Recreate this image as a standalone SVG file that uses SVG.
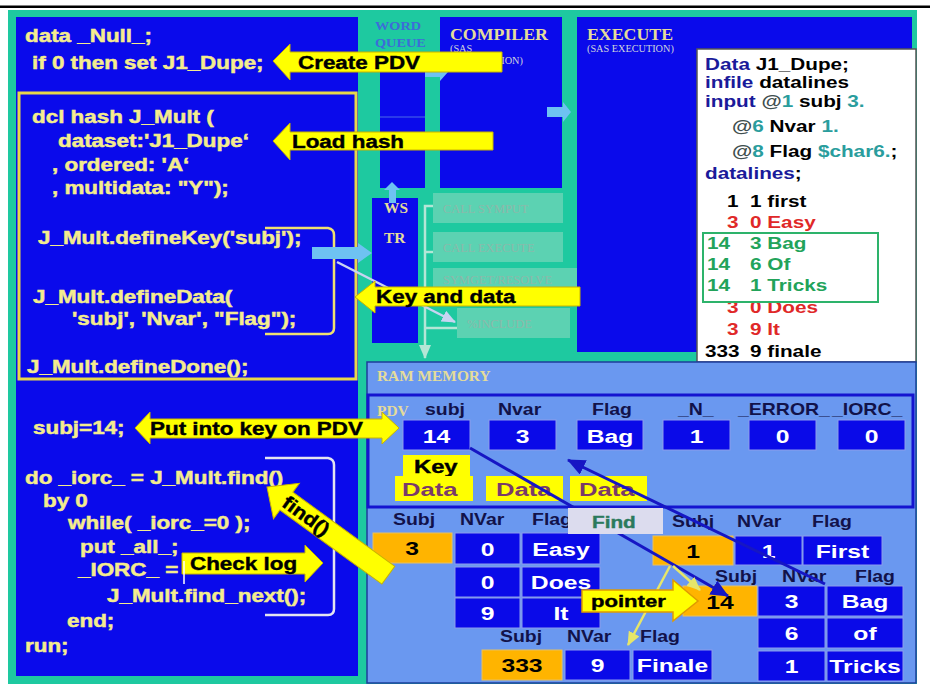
<svg xmlns="http://www.w3.org/2000/svg" width="930" height="687" viewBox="0 0 930 687">
<defs>
<style>
.code{font-family:"Liberation Sans",Arial,sans-serif;font-weight:bold;font-size:19px;fill:#F4EC8E;stroke:#F4EC8E;stroke-width:0.5}
.call{font-family:"Liberation Sans",Arial,sans-serif;font-weight:bold;font-size:19px;fill:#000;stroke:#000;stroke-width:0.4}
.ser{font-family:"Liberation Serif","Times New Roman",serif;font-weight:bold;fill:#E4DC9A}
.small{font-family:"Liberation Serif","Times New Roman",serif;font-size:9.5px;fill:#D0D4DC}
.cbox{fill:#5CD2B2}
.ctxt{font-family:"Liberation Serif","Times New Roman",serif;font-size:11.5px;fill:#8DB8AA}
.wb{font-family:"Liberation Sans",Arial,sans-serif;font-weight:bold;font-size:17px;fill:#000}
.nv{fill:#1A1A9A}.tl{fill:#2A9D9D}.gr{fill:#3F4F4F}.rd{fill:#E02828}.gn{fill:#22A35A}
.hdr{font-family:"Liberation Sans",Arial,sans-serif;font-weight:bold;font-size:16.5px;fill:#12124A}
.val{font-family:"Liberation Sans",Arial,sans-serif;font-weight:bold;font-size:19px;fill:#fff;text-anchor:middle}
.valk{font-family:"Liberation Sans",Arial,sans-serif;font-weight:bold;font-size:19px;fill:#000;text-anchor:middle}
.dat{font-family:"Liberation Sans",Arial,sans-serif;font-weight:bold;font-size:19px;fill:#7A3A6A}
.bcell{fill:#0A0AE8;stroke:#8C9CEC;stroke-width:1}
.ocell{fill:#FFB400;stroke:#E8C060;stroke-width:1}
.ybox{fill:#FFFF00}
.yarrow{fill:#FFFF00;stroke:#C8B400;stroke-width:1}
.lb{fill:#6EC2F2}
.blue{fill:#0A0AEB}
</style>
<marker id="ab" markerUnits="userSpaceOnUse" markerWidth="18" markerHeight="16" refX="17" refY="8" orient="auto"><path d="M0,0 L18,8 L0,16 z" fill="#1616C4"/></marker>
<marker id="al" markerUnits="userSpaceOnUse" markerWidth="14" markerHeight="12" refX="13" refY="6" orient="auto"><path d="M0,0 L14,6 L0,12 z" fill="#C8D4F2"/></marker>
<marker id="at" markerUnits="userSpaceOnUse" markerWidth="14" markerHeight="12" refX="13" refY="6" orient="auto"><path d="M0,0 L14,6 L0,12 z" fill="#B4E6D6"/></marker>
<marker id="ay" markerUnits="userSpaceOnUse" markerWidth="14" markerHeight="12" refX="13" refY="6" orient="auto"><path d="M0,0 L14,6 L0,12 z" fill="#E6E66A"/></marker>
</defs>

<rect width="930" height="687" fill="#fff"/>
<rect x="0" y="5.5" width="930" height="2.5" fill="#000"/>
<rect x="8" y="10" width="909" height="674" fill="#1EC9A0"/>

<g id="code-panel">
<rect class="blue" x="16" y="17" width="342" height="659"/>
<rect x="19" y="93" width="337" height="286" fill="none" stroke="#E8D84A" stroke-width="3"/>
<text class="code" transform="translate(25 42) scale(1.18 1)">data _Null_;</text>
<text class="code" transform="translate(32 69) scale(1.18 1)">if 0 then set J1_Dupe;</text>
<text class="code" transform="translate(32 123) scale(1.18 1)">dcl hash J_Mult (</text>
<text class="code" transform="translate(58 147) scale(1.18 1)">dataset:'J1_Dupe‘</text>
<text class="code" transform="translate(52 171) scale(1.18 1)">, ordered: 'A‘</text>
<text class="code" transform="translate(52 194) scale(1.18 1)">, multidata: "Y");</text>
<text class="code" transform="translate(38 244) scale(1.18 1)">J_Mult.defineKey('subj');</text>
<text class="code" transform="translate(33 303) scale(1.18 1)">J_Mult.defineData(</text>
<text class="code" transform="translate(72 325) scale(1.18 1)">'subj', 'Nvar', "Flag");</text>
<text class="code" transform="translate(27 373) scale(1.18 1)">J_Mult.defineDone();</text>
<text class="code" transform="translate(33 434) scale(1.18 1)">subj=14;</text>
<text class="code" transform="translate(25 484) scale(1.18 1)">do _iorc_ = J_Mult.find()</text>
<text class="code" transform="translate(43 507) scale(1.18 1)">by 0</text>
<text class="code" transform="translate(68 529) scale(1.18 1)">while( _iorc_=0 );</text>
<text class="code" transform="translate(80 553) scale(1.18 1)">put _all_;</text>
<text class="code" transform="translate(78 576) scale(1.18 1)">_IORC_ =</text>
<text class="code" transform="translate(107 602) scale(1.18 1)">J_Mult.find_next();</text>
<text class="code" transform="translate(67 627) scale(1.18 1)">end;</text>
<text class="code" transform="translate(25 652) scale(1.18 1)">run;</text>
<path d="M265,228 H328 Q334,229 334,235 V328 Q334,334 328,334 H265" fill="none" stroke="#F0E070" stroke-width="2.5"/>
<path d="M265,458 H328 Q334,459 334,465 V609 Q334,615 328,615 H265" fill="none" stroke="#E4E4F0" stroke-width="2.5"/>
</g>

<g id="word-queue">
<text class="ser" style="fill:#3D6CD8;font-size:13px" transform="translate(375 30) scale(1.1 1)">WORD</text>
<text class="ser" style="fill:#3D6CD8;font-size:13px" transform="translate(375 47) scale(1.1 1)">QUEUE</text>
<rect class="blue" x="380" y="52" width="45" height="136"/>
<line x1="380" y1="117" x2="425" y2="117" stroke="#4A6AE8" stroke-width="1"/>
</g>

<g id="ws-tr">
<rect class="blue" x="372" y="198" width="46" height="145"/>
<text class="ser" style="font-size:14px" transform="translate(384 213) scale(1.1 1)">WS</text>
<text class="ser" style="font-size:14px" transform="translate(384 243) scale(1.1 1)">TR</text>
</g>

<g id="compiler">
<rect class="blue" x="440" y="17" width="122" height="171"/>
<text class="ser" style="font-size:16.5px" transform="translate(450 40) scale(1.08 1)">COMPILER</text>
<text class="small" transform="translate(450 52) scale(1.08 1)">(SAS</text>
<text class="small" transform="translate(450 64) scale(1.08 1)">COMPILATION)</text>
</g>

<g id="call-routines">
<rect class="cbox" x="433" y="193" width="130" height="30"/>
<text class="ctxt" transform="translate(443 213) scale(1.08 1)">CALL SYMPUT</text>
<rect class="cbox" x="433" y="232" width="130" height="30"/>
<text class="ctxt" transform="translate(443 252) scale(1.08 1)">CALL EXECUTE</text>
<rect class="cbox" x="433" y="268" width="145" height="30"/>
<text class="ctxt" transform="translate(443 284) scale(1.08 1)">SYMGET/RESOLVE</text>
<rect class="cbox" x="457" y="308" width="113" height="30"/>
<text class="ctxt" transform="translate(467 328) scale(1.08 1)">%INCLUDE</text>
</g>

<g id="execute">
<rect class="blue" x="577" y="17" width="335" height="335"/>
<text class="ser" style="font-size:16.5px" transform="translate(587 40) scale(1.08 1)">EXECUTE</text>
<text class="small" transform="translate(587 52) scale(1.08 1)">(SAS EXECUTION)</text>
</g>

<g id="datalines-box">
<rect x="697" y="49" width="219" height="313" fill="#fff" stroke="#555" stroke-width="1.5"/>
<text class="wb" transform="translate(705 70) scale(1.22 1)"><tspan class="nv">Data</tspan> J1_Dupe;</text>
<text class="wb" transform="translate(705 88) scale(1.22 1)"><tspan class="nv">infile</tspan> datalines</text>
<text class="wb" transform="translate(705 107) scale(1.22 1)"><tspan class="nv">input</tspan> <tspan class="gr">@</tspan><tspan class="tl">1</tspan> subj <tspan class="tl">3.</tspan></text>
<text class="wb" transform="translate(732 132) scale(1.22 1)"><tspan class="gr">@</tspan><tspan class="tl">6</tspan> Nvar <tspan class="tl">1.</tspan></text>
<text class="wb" transform="translate(732 157) scale(1.22 1)"><tspan class="gr">@</tspan><tspan class="tl">8</tspan> Flag <tspan class="tl">$char6.</tspan>;</text>
<text class="wb" transform="translate(705 179) scale(1.22 1)"><tspan class="nv">datalines</tspan>;</text>
<text class="wb" transform="translate(727 207) scale(1.22 1)">1</text>
<text class="wb" transform="translate(750 207) scale(1.22 1)">1 first</text>
<text class="wb rd" transform="translate(727 228) scale(1.22 1)">3</text>
<text class="wb rd" transform="translate(750 228) scale(1.22 1)">0 Easy</text>
<text class="wb gn" transform="translate(707 249) scale(1.22 1)">14</text>
<text class="wb gn" transform="translate(750 249) scale(1.22 1)">3 Bag</text>
<text class="wb gn" transform="translate(707 270) scale(1.22 1)">14</text>
<text class="wb gn" transform="translate(750 270) scale(1.22 1)">6 Of</text>
<text class="wb gn" transform="translate(707 291) scale(1.22 1)">14</text>
<text class="wb gn" transform="translate(750 291) scale(1.22 1)">1 Tricks</text>
<text class="wb rd" transform="translate(727 313) scale(1.22 1)">3</text>
<text class="wb rd" transform="translate(750 313) scale(1.22 1)">0 Does</text>
<text class="wb rd" transform="translate(727 335) scale(1.22 1)">3</text>
<text class="wb rd" transform="translate(750 335) scale(1.22 1)">9 It</text>
<text class="wb" transform="translate(705 357) scale(1.22 1)">333</text>
<text class="wb" transform="translate(750 357) scale(1.22 1)">9 finale</text>
<rect x="703" y="233" width="175" height="69" fill="none" stroke="#2DB36B" stroke-width="2"/>
</g>

<g id="ram-memory">
<rect x="367" y="362" width="549" height="321" fill="#6A98F0" stroke="#1E3C9A" stroke-width="1.5"/>
<text class="ser" style="font-size:14px" transform="translate(377 381) scale(1.1 1)">RAM MEMORY</text>
</g>

<g id="pdv">
<rect x="368" y="395" width="545" height="112" fill="none" stroke="#1414D0" stroke-width="3"/>
<text class="ser" style="font-size:14px" transform="translate(377 416) scale(1.1 1)">PDV</text>
<text class="hdr" transform="translate(425 415) scale(1.18 1)">subj</text>
<text class="hdr" transform="translate(498 415) scale(1.18 1)">Nvar</text>
<text class="hdr" transform="translate(592 415) scale(1.18 1)">Flag</text>
<text class="hdr" transform="translate(678 415) scale(1.18 1)">_N_</text>
<text class="hdr" transform="translate(738 415) scale(1.18 1)">_ERROR_</text>
<text class="hdr" transform="translate(832 415) scale(1.18 1)">_IORC_</text>
<rect class="bcell" x="403" y="420" width="67" height="30"/>
<text class="val" transform="translate(436.5 443) scale(1.3 1)">14</text>
<rect class="bcell" x="489" y="420" width="67" height="30"/>
<text class="val" transform="translate(522.5 443) scale(1.3 1)">3</text>
<rect class="bcell" x="577" y="420" width="66" height="30"/>
<text class="val" transform="translate(610 443) scale(1.3 1)">Bag</text>
<rect class="bcell" x="663" y="420" width="67" height="30"/>
<text class="val" transform="translate(696.5 443) scale(1.3 1)">1</text>
<rect class="bcell" x="749" y="420" width="67" height="30"/>
<text class="val" transform="translate(782.5 443) scale(1.3 1)">0</text>
<rect class="bcell" x="838" y="420" width="67" height="30"/>
<text class="val" transform="translate(871.5 443) scale(1.3 1)">0</text>
<rect class="ybox" x="403" y="455" width="67" height="22"/>
<text class="call" transform="translate(414 473) scale(1.25 1)">Key</text>
<rect class="ybox" x="395" y="476" width="78" height="25"/>
<text class="dat" transform="translate(402 496) scale(1.35 1)">Data</text>
<rect class="ybox" x="486" y="476" width="77" height="25"/>
<text class="dat" transform="translate(496 496) scale(1.35 1)">Data</text>
<rect class="ybox" x="570" y="476" width="77" height="25"/>
<text class="dat" transform="translate(579 496) scale(1.35 1)">Data</text>
</g>

<g id="hash-items">
<text class="hdr" transform="translate(393 525) scale(1.18 1)">Subj</text>
<text class="hdr" transform="translate(460 525) scale(1.18 1)">NVar</text>
<text class="hdr" transform="translate(532 525) scale(1.18 1)">Flag</text>
<rect class="ocell" x="373" y="533" width="79" height="30"/>
<text class="valk" transform="translate(412 555) scale(1.3 1)">3</text>
<rect class="bcell" x="455" y="533" width="65" height="31"/>
<text class="val" transform="translate(487.5 556) scale(1.3 1)">0</text>
<rect class="bcell" x="522" y="533" width="78" height="31"/>
<text class="val" transform="translate(561 556) scale(1.3 1)">Easy</text>
<rect class="bcell" x="455" y="567" width="65" height="30"/>
<text class="val" transform="translate(487.5 589) scale(1.3 1)">0</text>
<rect class="bcell" x="522" y="567" width="78" height="30"/>
<text class="val" transform="translate(561 589) scale(1.3 1)">Does</text>
<rect class="bcell" x="455" y="598" width="65" height="30"/>
<text class="val" transform="translate(487.5 620) scale(1.3 1)">9</text>
<rect class="bcell" x="522" y="598" width="78" height="30"/>
<text class="val" transform="translate(561 620) scale(1.3 1)">It</text>

<text class="hdr" transform="translate(500 642) scale(1.18 1)">Subj</text>
<text class="hdr" transform="translate(567 642) scale(1.18 1)">NVar</text>
<text class="hdr" transform="translate(640 642) scale(1.18 1)">Flag</text>
<rect class="ocell" x="482" y="650" width="80" height="30"/>
<text class="valk" transform="translate(522 672) scale(1.3 1)">333</text>
<rect class="bcell" x="565" y="650" width="65" height="30"/>
<text class="val" transform="translate(597.5 672) scale(1.3 1)">9</text>
<rect class="bcell" x="633" y="650" width="79" height="30"/>
<text class="val" transform="translate(672.5 672) scale(1.3 1)">Finale</text>

<text class="hdr" transform="translate(672 527) scale(1.18 1)">Subj</text>
<text class="hdr" transform="translate(737 527) scale(1.18 1)">NVar</text>
<text class="hdr" transform="translate(812 527) scale(1.18 1)">Flag</text>
<rect class="ocell" x="653" y="536" width="80" height="29"/>
<text class="valk" transform="translate(693 558) scale(1.3 1)">1</text>
<rect class="bcell" x="735" y="536" width="67" height="29"/>
<text class="val" transform="translate(768.5 558) scale(1.3 1)">1</text>
<rect class="bcell" x="803" y="536" width="79" height="29"/>
<text class="val" transform="translate(842.5 558) scale(1.3 1)">First</text>

<text class="hdr" transform="translate(715 582) scale(1.18 1)">Subj</text>
<text class="hdr" transform="translate(782 582) scale(1.18 1)">NVar</text>
<text class="hdr" transform="translate(855 582) scale(1.18 1)">Flag</text>
<rect class="ocell" x="683" y="586" width="74" height="30"/>
<text class="valk" transform="translate(720 609) scale(1.3 1)">14</text>
<rect class="bcell" x="758" y="586" width="67" height="30"/>
<text class="val" transform="translate(791.5 608) scale(1.3 1)">3</text>
<rect class="bcell" x="827" y="586" width="76" height="30"/>
<text class="val" transform="translate(865 608) scale(1.3 1)">Bag</text>
<rect class="bcell" x="758" y="618" width="67" height="30"/>
<text class="val" transform="translate(791.5 640) scale(1.3 1)">6</text>
<rect class="bcell" x="827" y="618" width="76" height="30"/>
<text class="val" transform="translate(865 640) scale(1.3 1)">of</text>
<rect class="bcell" x="758" y="651" width="67" height="30"/>
<text class="val" transform="translate(791.5 673) scale(1.3 1)">1</text>
<rect class="bcell" x="827" y="651" width="76" height="30"/>
<text class="val" transform="translate(865 673) scale(1.3 1)">Tricks</text>
</g>

<g id="connectors">
<polygon class="lb" points="384,190 392,182 400,190 396,190 396,203 389,203 389,190"/>
<polygon class="lb" points="425,67 440,67 440,63 448,72 440,81 440,77 425,77"/>
<polygon class="lb" points="547,107 563,107 563,102 571,112 563,122 563,117 547,117"/>
<polygon class="lb" points="312,247 358,247 358,243 372,253 358,263 358,259 312,259"/>
<path d="M433,206 H425 V354 M425,252 H433 M425,290 H433 M425,328 H457" fill="none" stroke="#B4E6D6" stroke-width="2.5"/>
<line x1="425" y1="345" x2="425" y2="358" stroke="#B4E6D6" stroke-width="2.5" marker-end="url(#at)"/>
<line x1="337" y1="262" x2="455" y2="322" stroke="#C8D4F2" stroke-width="2.5" marker-end="url(#al)"/>
<line x1="470" y1="448" x2="728" y2="596" stroke="#1616C4" stroke-width="3" marker-end="url(#ab)"/>
<line x1="825" y1="584" x2="568" y2="460" stroke="#1616C4" stroke-width="3" marker-end="url(#ab)"/>
<line x1="670" y1="566" x2="628" y2="645" stroke="#E6E66A" stroke-width="2.5" marker-end="url(#ay)"/>
<line x1="673" y1="566" x2="700" y2="590" stroke="#E6E66A" stroke-width="2.5" marker-end="url(#ay)"/>
</g>

<g id="find-label">
<rect x="568" y="508" width="95" height="26" fill="#DCDCEE"/>
<text class="call" style="fill:#2B7A5C;stroke:#2B7A5C;font-size:17px" transform="translate(592 528) scale(1.22 1)">Find</text>
</g>

<g id="arrow-create-pdv">
<polygon class="yarrow" points="273,61 290,44 290,52 502,52 502,72 290,72 290,80"/>
<text class="call" transform="translate(298 69) scale(1.18 1)">Create PDV</text>
</g>
<g id="arrow-load-hash">
<polygon class="yarrow" points="273,141 290,123 290,132 493,132 493,150 290,150 290,160"/>
<text class="call" transform="translate(292 148) scale(1.18 1)">Load hash</text>
</g>
<g id="arrow-key-data">
<polygon class="yarrow" points="355,297 375,281 375,287 580,287 580,306 375,306 375,313"/>
<text class="call" transform="translate(376 303) scale(1.18 1)">Key and data</text>
</g>
<g id="arrow-put-key">
<polygon class="yarrow" points="135,428 150,412 150,419 382,419 382,412 399,428 382,444 382,438 150,438 150,444"/>
<text class="call" transform="translate(150 435) scale(1.18 1)">Put into key on PDV</text>
</g>
<g id="arrow-check-log">
<polygon class="yarrow" points="182,553 305,553 305,545 323,563 305,582 305,574 182,574"/>
<line x1="184" y1="561" x2="184" y2="584" stroke="#fff" stroke-width="1.5"/>
<text class="call" transform="translate(190 570) scale(1.18 1)">Check log</text>
</g>
<g id="arrow-find" transform="translate(267 487) rotate(36)">
<polygon class="yarrow" points="0,0 24,-22 24,-11 150,-11 150,11 24,11 24,22"/>
<text class="call" transform="translate(22 7) scale(1.12 1)">find()</text>
</g>
<g id="arrow-pointer">
<polygon points="582,590 673,590 673,580 698,601 673,621 673,612 582,612" fill="#FFFF00" stroke="#E09A00" stroke-width="1.5"/>
<text class="call" style="font-size:17px" transform="translate(591 607) scale(1.3 1)">pointer</text>
</g>
</svg>
